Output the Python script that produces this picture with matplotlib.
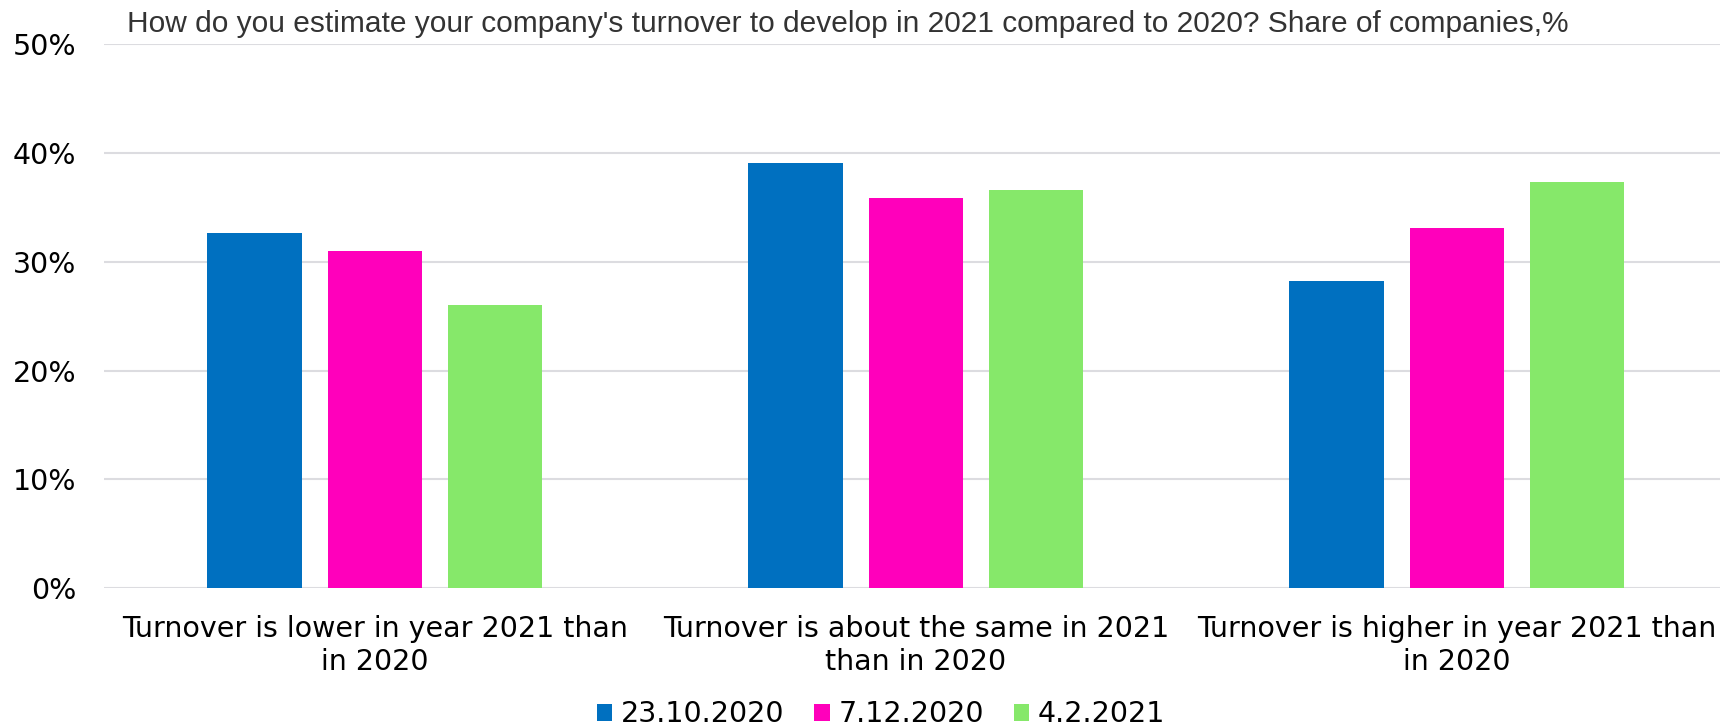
import matplotlib
matplotlib.use("Agg")
import matplotlib.pyplot as plt
from matplotlib import font_manager
import numpy as np

categories = ["Turnover is lower in year 2021 than\nin 2020",
              "Turnover is about the same in 2021\nthan in 2020",
              "Turnover is higher in year 2021 than\nin 2020"]
series_names = ["23.10.2020", "7.12.2020", "4.2.2021"]
v_oct = [32.7, 39.1, 28.2]
v_dec = [31.0, 35.9, 33.1]
v_feb = [26.0, 36.6, 37.3]
yticks = [0, 10, 20, 30, 40, 50]
title = "How do you estimate your company's turnover to develop in 2021 compared to 2020? Share of companies,%"
colors = ["#0070C0", "#FF00BB", "#86E86A"]

names = {f.name for f in font_manager.fontManager.ttflist}
title_font = "Liberation Sans" if "Liberation Sans" in names else "DejaVu Sans"

W, H = 1720, 728
fig = plt.figure(figsize=(W/100, H/100), dpi=100)
left = 104.3 / W
bottom = (H - 588.3) / H
top = (H - 44.3) / H
ax = fig.add_axes([left, bottom, 1 - left, top - bottom])

x = np.arange(len(categories))
pitch = 0.2224
width = 0.1743
for i, (vals, c, n) in enumerate(zip([v_oct, v_dec, v_feb], colors, series_names)):
    ax.bar(x + (i - 1) * pitch, vals, width, color=c, label=n, zorder=3)

ax.set_xlim(-0.5, -0.5 + (W - 104.3) / 541.0)
ax.set_ylim(0, 50)
ax.set_yticks(yticks)
ax.set_yticklabels([f"{t}%" for t in yticks])
ax.set_xticks(x)
ax.set_xticklabels(categories, linespacing=1.25)
ax.tick_params(axis="both", length=0, labelsize=20.5, colors="#000000")
ax.tick_params(axis="y", pad=20)
ax.tick_params(axis="x", pad=19)
for s in ax.spines.values():
    s.set_visible(False)
ax.yaxis.grid(True, color="#DCDCE0", linewidth=1.5, zorder=0)
ax.set_axisbelow(True)

t = fig.text(127 / W, 1 - 24 / H, title, fontsize=20, family=title_font,
             color="#333333", ha="left", va="center")
# fit title width to the reference span
fig.canvas.draw()
wpx = t.get_window_extent().width
t.set_fontsize(20 * 1438.0 / wpx)

leg = fig.legend(loc="center", bbox_to_anchor=(881 / W, 1 - 714.5 / H), ncol=3,
                 frameon=False, fontsize=20.5, handlelength=0.55, handleheight=0.55,
                 handletextpad=0.3, columnspacing=1.05, borderaxespad=0,
                 borderpad=0)

fig.savefig("out.png", dpi=100)
